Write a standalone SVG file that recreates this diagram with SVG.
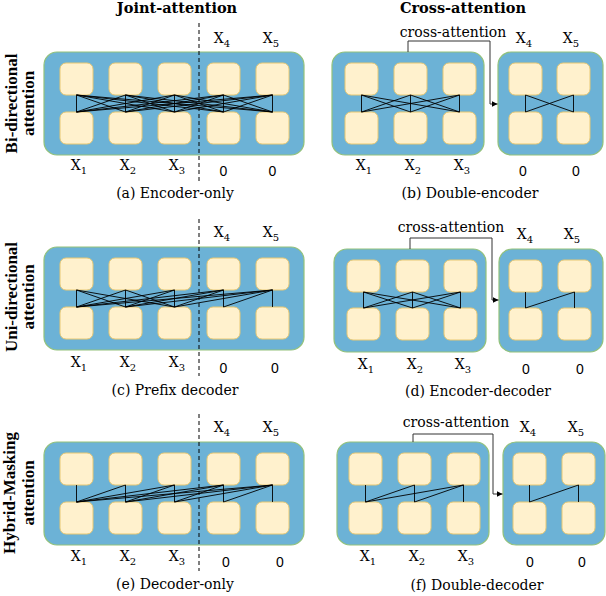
<svg xmlns="http://www.w3.org/2000/svg" width="606" height="596" viewBox="0 0 606 596">
<defs>
<style>
.cont{fill:#6CB2D6;stroke:#93C27A;stroke-width:1.2}
.box{fill:#FFF1CD;stroke:#E8C873;stroke-width:1}
.edges{fill:none;stroke:#000;stroke-width:0.9}
.xa{fill:none;stroke:#333;stroke-width:1}
.dash{stroke:#000;stroke-width:1;stroke-dasharray:4 3}
.lbl{font-family:"DejaVu Serif",serif;font-size:14px;fill:#000}
.zero{font-family:"Liberation Sans",Arial,sans-serif;font-size:14px;fill:#000}
.title{font-family:"DejaVu Serif",serif;font-weight:bold;font-size:14.5px;fill:#000}
.side{font-family:"Liberation Serif","Times New Roman",serif;font-weight:bold;font-size:17px;fill:#000}
</style>
<marker id="arr" markerWidth="6" markerHeight="6" refX="6" refY="3" orient="auto" markerUnits="userSpaceOnUse">
<path d="M0,0L6,3L0,6z" fill="#000"/>
</marker>
</defs>
<rect width="606" height="596" fill="#fff"/>

<!-- titles -->
<text class="title" x="177" y="13" text-anchor="middle">Joint-attention</text>
<text class="title" x="463" y="13" text-anchor="middle">Cross-attention</text>

<!-- side labels -->
<g id="side-bi">
<text class="side" transform="translate(16.5,103.5) rotate(-90)" text-anchor="middle">Bi-directional</text>
<text class="side" transform="translate(34,103.5) rotate(-90)" text-anchor="middle">attention</text>
</g>
<g id="side-uni">
<text class="side" transform="translate(16.5,297) rotate(-90)" text-anchor="middle">Uni-directional</text>
<text class="side" transform="translate(34,297) rotate(-90)" text-anchor="middle">attention</text>
</g>
<g id="side-hybrid">
<text class="side" transform="translate(14.5,493) rotate(-90)" text-anchor="middle">Hybrid-Masking</text>
<text class="side" transform="translate(34,493) rotate(-90)" text-anchor="middle">attention</text>
</g>

<!-- panel (a) -->
<g id="a-container">
<rect class="cont" x="44" y="52" width="260" height="103" rx="13"/>
<rect class="box" x="60" y="63" width="33" height="32" rx="6"/>
<rect class="box" x="109" y="63" width="33" height="32" rx="6"/>
<rect class="box" x="158" y="63" width="33" height="32" rx="6"/>
<rect class="box" x="207" y="63" width="33" height="32" rx="6"/>
<rect class="box" x="256" y="63" width="33" height="32" rx="6"/>
<rect class="box" x="60" y="112" width="33" height="32" rx="6"/>
<rect class="box" x="109" y="112" width="33" height="32" rx="6"/>
<rect class="box" x="158" y="112" width="33" height="32" rx="6"/>
<rect class="box" x="207" y="112" width="33" height="32" rx="6"/>
<rect class="box" x="256" y="112" width="33" height="32" rx="6"/>
</g>

<!-- panel (c) -->
<g id="c-container">
<rect class="cont" x="44" y="247" width="260" height="103" rx="13"/>
<rect class="box" x="60" y="258" width="33" height="32" rx="6"/>
<rect class="box" x="109" y="258" width="33" height="32" rx="6"/>
<rect class="box" x="158" y="258" width="33" height="32" rx="6"/>
<rect class="box" x="207" y="258" width="33" height="32" rx="6"/>
<rect class="box" x="256" y="258" width="33" height="32" rx="6"/>
<rect class="box" x="60" y="307" width="33" height="32" rx="6"/>
<rect class="box" x="109" y="307" width="33" height="32" rx="6"/>
<rect class="box" x="158" y="307" width="33" height="32" rx="6"/>
<rect class="box" x="207" y="307" width="33" height="32" rx="6"/>
<rect class="box" x="256" y="307" width="33" height="32" rx="6"/>
</g>

<!-- panel (e) -->
<g id="e-container">
<rect class="cont" x="44" y="442" width="260" height="103" rx="13"/>
<rect class="box" x="60" y="453" width="33" height="32" rx="6"/>
<rect class="box" x="109" y="453" width="33" height="32" rx="6"/>
<rect class="box" x="158" y="453" width="33" height="32" rx="6"/>
<rect class="box" x="207" y="453" width="33" height="32" rx="6"/>
<rect class="box" x="256" y="453" width="33" height="32" rx="6"/>
<rect class="box" x="60" y="502" width="33" height="32" rx="6"/>
<rect class="box" x="109" y="502" width="33" height="32" rx="6"/>
<rect class="box" x="158" y="502" width="33" height="32" rx="6"/>
<rect class="box" x="207" y="502" width="33" height="32" rx="6"/>
<rect class="box" x="256" y="502" width="33" height="32" rx="6"/>
</g>

<!-- panel (b) -->
<g id="b-encoder">
<rect class="cont" x="332" y="52" width="152" height="103" rx="13"/>
<rect class="box" x="345" y="63" width="33" height="32" rx="6"/>
<rect class="box" x="394" y="63" width="33" height="32" rx="6"/>
<rect class="box" x="443" y="63" width="33" height="32" rx="6"/>
<rect class="box" x="345" y="112" width="33" height="32" rx="6"/>
<rect class="box" x="394" y="112" width="33" height="32" rx="6"/>
<rect class="box" x="443" y="112" width="33" height="32" rx="6"/>
</g>
<g id="b-encoder2">
<rect class="cont" x="498" y="52" width="105" height="103" rx="13"/>
<rect class="box" x="509" y="63" width="33" height="32" rx="6"/>
<rect class="box" x="557" y="63" width="33" height="32" rx="6"/>
<rect class="box" x="509" y="112" width="33" height="32" rx="6"/>
<rect class="box" x="557" y="112" width="33" height="32" rx="6"/>
</g>

<!-- panel (d) -->
<g id="d-encoder">
<rect class="cont" x="334" y="249" width="152" height="103" rx="13"/>
<rect class="box" x="347" y="260" width="33" height="32" rx="6"/>
<rect class="box" x="396" y="260" width="33" height="32" rx="6"/>
<rect class="box" x="444" y="260" width="33" height="32" rx="6"/>
<rect class="box" x="347" y="308" width="33" height="32" rx="6"/>
<rect class="box" x="396" y="308" width="33" height="32" rx="6"/>
<rect class="box" x="444" y="308" width="33" height="32" rx="6"/>
</g>
<g id="d-decoder">
<rect class="cont" x="499" y="249" width="104" height="103" rx="13"/>
<rect class="box" x="509" y="260" width="33" height="32" rx="6"/>
<rect class="box" x="558" y="260" width="33" height="32" rx="6"/>
<rect class="box" x="509" y="308" width="33" height="32" rx="6"/>
<rect class="box" x="558" y="308" width="33" height="32" rx="6"/>
</g>

<!-- panel (f) -->
<g id="f-decoder">
<rect class="cont" x="337" y="442" width="152" height="103" rx="13"/>
<rect class="box" x="349" y="453" width="33" height="32" rx="6"/>
<rect class="box" x="398" y="453" width="33" height="32" rx="6"/>
<rect class="box" x="447" y="453" width="33" height="32" rx="6"/>
<rect class="box" x="349" y="502" width="33" height="32" rx="6"/>
<rect class="box" x="398" y="502" width="33" height="32" rx="6"/>
<rect class="box" x="447" y="502" width="33" height="32" rx="6"/>
</g>
<g id="f-decoder2">
<rect class="cont" x="503" y="442" width="102" height="103" rx="13"/>
<rect class="box" x="513" y="453" width="33" height="32" rx="6"/>
<rect class="box" x="562" y="453" width="33" height="32" rx="6"/>
<rect class="box" x="513" y="502" width="33" height="32" rx="6"/>
<rect class="box" x="562" y="502" width="33" height="32" rx="6"/>
</g>

<!-- connectors -->
<g id="connectors">
<path class="edges" d="M76.5 95L76.5 112M76.5 95L125.5 112M76.5 95L174.5 112M76.5 95L223.5 112M76.5 95L272.5 112M125.5 95L76.5 112M125.5 95L125.5 112M125.5 95L174.5 112M125.5 95L223.5 112M125.5 95L272.5 112M174.5 95L76.5 112M174.5 95L125.5 112M174.5 95L174.5 112M174.5 95L223.5 112M174.5 95L272.5 112M223.5 95L76.5 112M223.5 95L125.5 112M223.5 95L174.5 112M223.5 95L223.5 112M223.5 95L272.5 112M272.5 95L76.5 112M272.5 95L125.5 112M272.5 95L174.5 112M272.5 95L223.5 112M272.5 95L272.5 112"/>
<path class="edges" d="M76.5 290L76.5 307M76.5 290L125.5 307M76.5 290L174.5 307M125.5 290L76.5 307M125.5 290L125.5 307M125.5 290L174.5 307M174.5 290L76.5 307M174.5 290L125.5 307M174.5 290L174.5 307M223.5 290L76.5 307M223.5 290L125.5 307M223.5 290L174.5 307M223.5 290L223.5 307M272.5 290L76.5 307M272.5 290L125.5 307M272.5 290L174.5 307M272.5 290L223.5 307M272.5 290L272.5 307"/>
<path class="edges" d="M76.5 485L76.5 502M125.5 485L76.5 502M125.5 485L125.5 502M174.5 485L76.5 502M174.5 485L125.5 502M174.5 485L174.5 502M223.5 485L76.5 502M223.5 485L125.5 502M223.5 485L174.5 502M223.5 485L223.5 502M272.5 485L76.5 502M272.5 485L125.5 502M272.5 485L174.5 502M272.5 485L223.5 502M272.5 485L272.5 502"/>
<path class="edges" d="M361.5 95L361.5 112M361.5 95L410.5 112M361.5 95L459.5 112M410.5 95L361.5 112M410.5 95L410.5 112M410.5 95L459.5 112M459.5 95L361.5 112M459.5 95L410.5 112M459.5 95L459.5 112M525.5 95L525.5 112M525.5 95L573.5 112M573.5 95L525.5 112M573.5 95L573.5 112"/>
<path class="edges" d="M363.5 292L363.5 308M363.5 292L412.5 308M363.5 292L460.5 308M412.5 292L363.5 308M412.5 292L412.5 308M412.5 292L460.5 308M460.5 292L363.5 308M460.5 292L412.5 308M460.5 292L460.5 308M525.5 292L525.5 308M574.5 292L525.5 308M574.5 292L574.5 308"/>
<path class="edges" d="M365.5 485L365.5 502M414.5 485L365.5 502M414.5 485L414.5 502M463.5 485L365.5 502M463.5 485L414.5 502M463.5 485L463.5 502M529.5 485L529.5 502M578.5 485L529.5 502M578.5 485L578.5 502"/>
<path class="xa" d="M408 52V41H490V104H497.5" marker-end="url(#arr)"/>
<path class="xa" d="M410 249V238H492V300H498.5" marker-end="url(#arr)"/>
<path class="xa" d="M413 442V434H493V494H502.5" marker-end="url(#arr)"/>
<line class="dash" x1="199" y1="23" x2="199" y2="182"/>
<line class="dash" x1="199" y1="219" x2="199" y2="376"/>
<line class="dash" x1="199" y1="414" x2="199" y2="571"/>
</g>

<!-- cross-attention labels -->
<text class="lbl" x="453" y="37" text-anchor="middle">cross-attention</text>
<text class="lbl" x="451" y="232" text-anchor="middle">cross-attention</text>
<text class="lbl" x="456" y="427" text-anchor="middle">cross-attention</text>

<!-- labels (a) -->
<text class="lbl" x="222" y="43" text-anchor="middle">X<tspan dy="4" font-size="10">4</tspan></text>
<text class="lbl" x="271" y="43" text-anchor="middle">X<tspan dy="4" font-size="10">5</tspan></text>
<text class="lbl" x="79" y="170" text-anchor="middle">X<tspan dy="4" font-size="10">1</tspan></text>
<text class="lbl" x="128" y="170" text-anchor="middle">X<tspan dy="4" font-size="10">2</tspan></text>
<text class="lbl" x="177" y="170" text-anchor="middle">X<tspan dy="4" font-size="10">3</tspan></text>
<text class="zero" x="223.5" y="176" text-anchor="middle">0</text>
<text class="zero" x="272.5" y="176" text-anchor="middle">0</text>
<text class="lbl" x="175" y="198" text-anchor="middle">(a) Encoder-only</text>

<!-- labels (c) -->
<text class="lbl" x="222" y="237" text-anchor="middle">X<tspan dy="4" font-size="10">4</tspan></text>
<text class="lbl" x="271" y="237" text-anchor="middle">X<tspan dy="4" font-size="10">5</tspan></text>
<text class="lbl" x="79" y="367" text-anchor="middle">X<tspan dy="4" font-size="10">1</tspan></text>
<text class="lbl" x="128" y="367" text-anchor="middle">X<tspan dy="4" font-size="10">2</tspan></text>
<text class="lbl" x="177" y="367" text-anchor="middle">X<tspan dy="4" font-size="10">3</tspan></text>
<text class="zero" x="223.5" y="373" text-anchor="middle">0</text>
<text class="zero" x="275" y="373" text-anchor="middle">0</text>
<text class="lbl" x="175" y="395" text-anchor="middle">(c) Prefix decoder</text>

<!-- labels (e) -->
<text class="lbl" x="222" y="432" text-anchor="middle">X<tspan dy="4" font-size="10">4</tspan></text>
<text class="lbl" x="271" y="432" text-anchor="middle">X<tspan dy="4" font-size="10">5</tspan></text>
<text class="lbl" x="79" y="561" text-anchor="middle">X<tspan dy="4" font-size="10">1</tspan></text>
<text class="lbl" x="128" y="561" text-anchor="middle">X<tspan dy="4" font-size="10">2</tspan></text>
<text class="lbl" x="177" y="561" text-anchor="middle">X<tspan dy="4" font-size="10">3</tspan></text>
<text class="zero" x="226" y="567" text-anchor="middle">0</text>
<text class="zero" x="280" y="567" text-anchor="middle">0</text>
<text class="lbl" x="175" y="589" text-anchor="middle">(e) Decoder-only</text>

<!-- labels (b) -->
<text class="lbl" x="524" y="43" text-anchor="middle">X<tspan dy="4" font-size="10">4</tspan></text>
<text class="lbl" x="571" y="43" text-anchor="middle">X<tspan dy="4" font-size="10">5</tspan></text>
<text class="lbl" x="364" y="170" text-anchor="middle">X<tspan dy="4" font-size="10">1</tspan></text>
<text class="lbl" x="413" y="170" text-anchor="middle">X<tspan dy="4" font-size="10">2</tspan></text>
<text class="lbl" x="462" y="170" text-anchor="middle">X<tspan dy="4" font-size="10">3</tspan></text>
<text class="zero" x="523" y="176" text-anchor="middle">0</text>
<text class="zero" x="576" y="176" text-anchor="middle">0</text>
<text class="lbl" x="470" y="198" text-anchor="middle">(b) Double-encoder</text>

<!-- labels (d) -->
<text class="lbl" x="525" y="239" text-anchor="middle">X<tspan dy="4" font-size="10">4</tspan></text>
<text class="lbl" x="572" y="239" text-anchor="middle">X<tspan dy="4" font-size="10">5</tspan></text>
<text class="lbl" x="366" y="369" text-anchor="middle">X<tspan dy="4" font-size="10">1</tspan></text>
<text class="lbl" x="415" y="369" text-anchor="middle">X<tspan dy="4" font-size="10">2</tspan></text>
<text class="lbl" x="463" y="369" text-anchor="middle">X<tspan dy="4" font-size="10">3</tspan></text>
<text class="zero" x="526" y="374" text-anchor="middle">0</text>
<text class="zero" x="580" y="374" text-anchor="middle">0</text>
<text class="lbl" x="478" y="396" text-anchor="middle">(d) Encoder-decoder</text>

<!-- labels (f) -->
<text class="lbl" x="528" y="432" text-anchor="middle">X<tspan dy="4" font-size="10">4</tspan></text>
<text class="lbl" x="576" y="432" text-anchor="middle">X<tspan dy="4" font-size="10">5</tspan></text>
<text class="lbl" x="368" y="561" text-anchor="middle">X<tspan dy="4" font-size="10">1</tspan></text>
<text class="lbl" x="417" y="561" text-anchor="middle">X<tspan dy="4" font-size="10">2</tspan></text>
<text class="lbl" x="466" y="561" text-anchor="middle">X<tspan dy="4" font-size="10">3</tspan></text>
<text class="zero" x="530" y="567" text-anchor="middle">0</text>
<text class="zero" x="582" y="567" text-anchor="middle">0</text>
<text class="lbl" x="477" y="590" text-anchor="middle">(f) Double-decoder</text>
</svg>
